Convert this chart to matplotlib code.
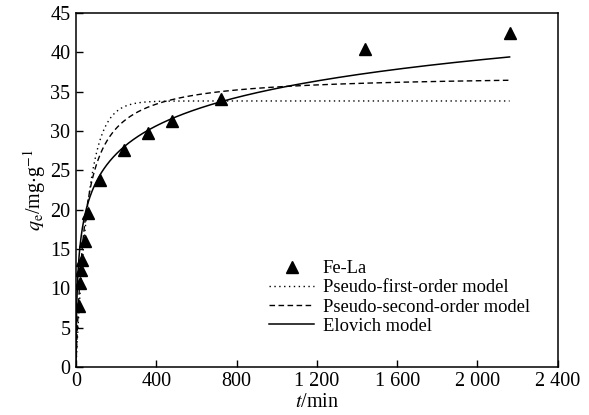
import numpy as np
import matplotlib
matplotlib.use("Agg")
import matplotlib.pyplot as plt

plt.rcParams.update({"font.family": "Liberation Serif", "mathtext.fontset": "stix",
                     "font.size": 14.5})

# measured adsorption of Fe-La
t_obs = [15, 20, 25, 30, 45, 60, 120, 240, 360, 480, 720, 1440, 2160]
q_obs = [7.7, 10.6, 12.3, 13.6, 16.0, 19.5, 23.7, 27.6, 29.7, 31.3, 34.1, 40.4, 42.4]

# fitted kinetic parameters
pfo_qe, pfo_k1 = 33.8, 0.016
pso_qe, pso_k2 = 37.2, 0.000591
elo_b, elo_ab = 5.2, 0.903

t = np.linspace(0, 2160, 1500)
q_pfo = pfo_qe * (1 - np.exp(-pfo_k1 * t))
q_pso = pso_qe ** 2 * pso_k2 * t / (1 + pso_qe * pso_k2 * t)
q_elo = elo_b * np.log(1 + elo_ab * t)

fig = plt.figure(figsize=(5.89, 4.15), dpi=100)
ax = fig.add_axes([0.129, 0.116, 0.818, 0.853])

ax.plot(t_obs, q_obs, "^", color="k", ms=9, label="Fe-La", zorder=3)
ax.plot(t, q_pfo, color="k", lw=1.0, ls=(0, (1, 2.5)), label="Pseudo-first-order model")
ax.plot(t, q_pso, color="k", lw=1.0, ls=(0, (4, 2.5)), label="Pseudo-second-order model")
ax.plot(t, q_elo, color="k", lw=1.1, label="Elovich model")

ax.set_xlim(0, 2400)
ax.set_ylim(0, 45)
ax.set_xticks([0, 400, 800, 1200, 1600, 2000, 2400])
ax.set_xticklabels(["0", "400", "800", "1 200", "1 600", "2 000", "2 400"])
ax.set_yticks(range(0, 46, 5))
ax.tick_params(direction="in", length=5, width=1, top=False, right=False, pad=4)
for s in ax.spines.values():
    s.set_linewidth(1.1)

ax.set_xlabel(r"$t$/min", labelpad=1)
ax.set_ylabel(r"$q_\mathrm{e}$/mg$\cdot$g$^{-1}$", labelpad=2)

ax.legend(loc="upper left", bbox_to_anchor=(0.386, 0.322), frameon=False,
          fontsize=13.3, handlelength=2.4, handletextpad=0.5, labelspacing=0.12,
          borderaxespad=0, markerscale=1.0)

fig.savefig("out.png", dpi=100)
